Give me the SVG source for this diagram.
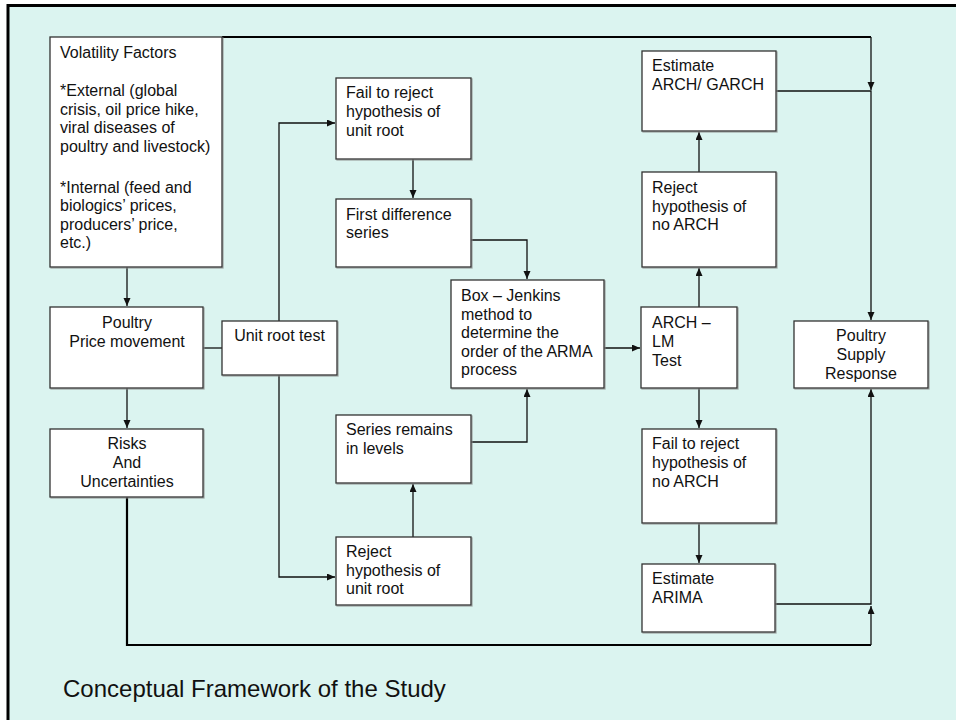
<svg xmlns="http://www.w3.org/2000/svg" width="956" height="720" viewBox="0 0 956 720">
<defs>
<marker id="ah" markerUnits="userSpaceOnUse" markerWidth="9" markerHeight="8" refX="8" refY="3.5" orient="auto">
<path d="M0,0 L8,3.5 L0,7 z" fill="#111"/>
</marker>
<filter id="sh" x="-5%" y="-5%" width="115%" height="115%">
<feDropShadow dx="1" dy="1" stdDeviation="0.4" flood-color="#888" flood-opacity="0.7"/>
</filter>
<style>
.box{fill:#fff;stroke:#333;stroke-width:1.3;filter:url(#sh)}
.t{font-family:"Liberation Sans",Arial,sans-serif;font-size:16px;fill:#111}
.c{text-anchor:middle}
.ln{fill:none;stroke:#111;stroke-width:1.3}
.thick{fill:none;stroke:#000;stroke-width:2.2}
</style>
</defs>
<rect x="0" y="0" width="956" height="720" fill="#fff"/>
<rect x="8" y="5.5" width="960" height="730" fill="#DBF4F0" stroke="#000" stroke-width="3"/>

<g id="connectors">
<path class="ln" d="M127,267 V306" marker-end="url(#ah)"/>
<path class="ln" d="M127,388 V428" marker-end="url(#ah)"/>
<path class="ln" d="M203,348 H222"/>
<path class="ln" d="M279,321 V123 H335" marker-end="url(#ah)"/>
<path class="ln" d="M279,375 V577 H335" marker-end="url(#ah)"/>
<path class="ln" d="M413,159 V198" marker-end="url(#ah)"/>
<path class="ln" d="M471,240 H527 V279" marker-end="url(#ah)"/>
<path class="ln" d="M413,537 V484" marker-end="url(#ah)"/>
<path class="ln" d="M471,442 H527 V389" marker-end="url(#ah)"/>
<path class="ln" d="M604,348 H640" marker-end="url(#ah)"/>
<path class="ln" d="M699,307 V268" marker-end="url(#ah)"/>
<path class="ln" d="M699,172 V132" marker-end="url(#ah)"/>
<path class="ln" d="M699,388 V428" marker-end="url(#ah)"/>
<path class="ln" d="M699,523 V563" marker-end="url(#ah)"/>
<path class="thick" d="M222,37 H871"/>
<path class="ln" d="M871,37 V90" marker-end="url(#ah)"/>
<path class="ln" d="M776,91 H871 V320" marker-end="url(#ah)"/>
<path class="thick" d="M127,497 V645 H871"/>
<path class="ln" d="M871,645 V606" marker-end="url(#ah)"/>
<path class="ln" d="M775,604 H871 V389" marker-end="url(#ah)"/>
</g>

<g id="volatility">
<rect class="box" x="50" y="37" width="172" height="230"/>
<text class="t" x="60" y="58">Volatility Factors</text>
<text class="t" x="60" y="96">*External (global</text>
<text class="t" x="60" y="115">crisis, oil price hike,</text>
<text class="t" x="60" y="133">viral diseases of</text>
<text class="t" x="60" y="152">poultry and livestock)</text>
<text class="t" x="60" y="193">*Internal (feed and</text>
<text class="t" x="60" y="211">biologics’ prices,</text>
<text class="t" x="60" y="230">producers’ price,</text>
<text class="t" x="60" y="248">etc.)</text>
</g>

<g id="poultry-price">
<rect class="box" x="50" y="307" width="153" height="81"/>
<text class="t c" x="127" y="328">Poultry</text>
<text class="t c" x="127" y="347">Price movement</text>
</g>

<g id="risks">
<rect class="box" x="50" y="429" width="153" height="68"/>
<text class="t c" x="127" y="449">Risks</text>
<text class="t c" x="127" y="468">And</text>
<text class="t c" x="127" y="487">Uncertainties</text>
</g>

<g id="unit-root-test">
<rect class="box" x="222" y="321" width="115" height="54"/>
<text class="t c" x="279.5" y="341">Unit root test</text>
</g>

<g id="fail-unit-root">
<rect class="box" x="336" y="78" width="135" height="81"/>
<text class="t" x="346" y="98">Fail to reject</text>
<text class="t" x="346" y="117">hypothesis of</text>
<text class="t" x="346" y="136">unit root</text>
</g>

<g id="first-difference">
<rect class="box" x="336" y="199" width="135" height="68"/>
<text class="t" x="346" y="220">First difference</text>
<text class="t" x="346" y="238">series</text>
</g>

<g id="series-levels">
<rect class="box" x="336" y="415" width="135" height="68"/>
<text class="t" x="346" y="435">Series remains</text>
<text class="t" x="346" y="454">in levels</text>
</g>

<g id="reject-unit-root">
<rect class="box" x="336" y="537" width="135" height="68"/>
<text class="t" x="346" y="557">Reject</text>
<text class="t" x="346" y="576">hypothesis of</text>
<text class="t" x="346" y="594">unit root</text>
</g>

<g id="box-jenkins">
<rect class="box" x="451" y="280" width="153" height="108"/>
<text class="t" x="461" y="301">Box – Jenkins</text>
<text class="t" x="461" y="320">method to</text>
<text class="t" x="461" y="338">determine the</text>
<text class="t" x="461" y="357">order of the ARMA</text>
<text class="t" x="461" y="375">process</text>
</g>

<g id="arch-lm">
<rect class="box" x="641" y="307" width="96" height="81"/>
<text class="t" x="652" y="328">ARCH –</text>
<text class="t" x="652" y="347">LM</text>
<text class="t" x="652" y="366">Test</text>
</g>

<g id="estimate-garch">
<rect class="box" x="642" y="51" width="134" height="80"/>
<text class="t" x="652" y="71">Estimate</text>
<text class="t" x="652" y="90">ARCH/ GARCH</text>
</g>

<g id="reject-no-arch">
<rect class="box" x="642" y="172" width="134" height="95"/>
<text class="t" x="652" y="193">Reject</text>
<text class="t" x="652" y="212">hypothesis of</text>
<text class="t" x="652" y="230">no ARCH</text>
</g>

<g id="fail-no-arch">
<rect class="box" x="642" y="429" width="134" height="94"/>
<text class="t" x="652" y="449">Fail to reject</text>
<text class="t" x="652" y="468">hypothesis of</text>
<text class="t" x="652" y="487">no ARCH</text>
</g>

<g id="estimate-arima">
<rect class="box" x="642" y="564" width="133" height="68"/>
<text class="t" x="652" y="584">Estimate</text>
<text class="t" x="652" y="603">ARIMA</text>
</g>

<g id="supply-response">
<rect class="box" x="794" y="321" width="134" height="67"/>
<text class="t c" x="861" y="341">Poultry</text>
<text class="t c" x="861" y="360">Supply</text>
<text class="t c" x="861" y="379">Response</text>
</g>

<text class="t" x="63" y="697" style="font-size:24px">Conceptual Framework of the Study</text>
</svg>
